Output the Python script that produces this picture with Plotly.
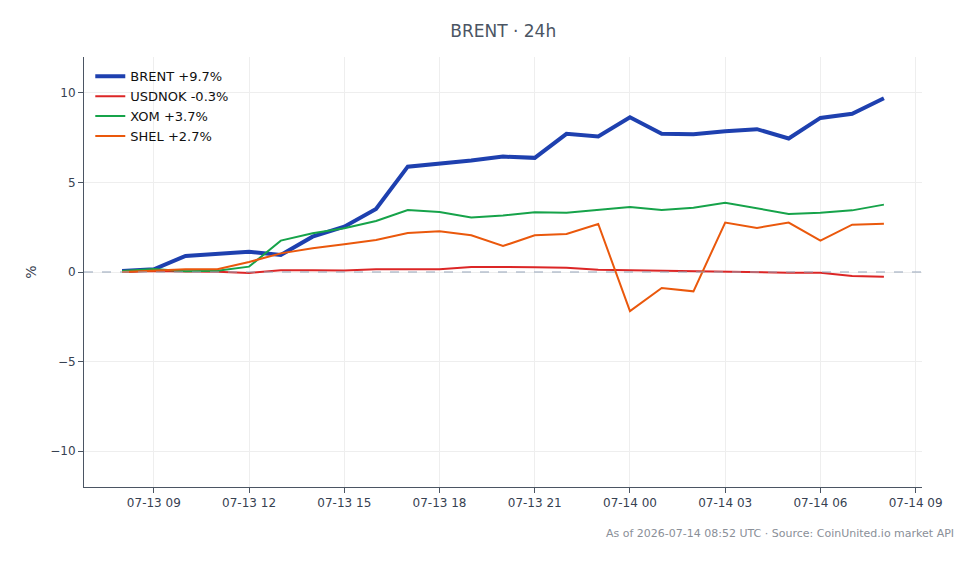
import pandas as pd
import plotly.graph_objects as go

times = pd.date_range("2026-07-13 08:00", "2026-07-14 08:00", freq="h")

brent = [0.05, 0.15, 0.90, 1.00, 1.13, 0.95, 1.97, 2.53, 3.52, 5.88, 6.03, 6.22, 6.44,
         6.37, 7.71, 7.56, 8.64, 7.72, 7.69, 7.86, 7.97, 7.45, 8.60, 8.83, 9.70]
usdnok = [0.00, 0.05, 0.03, 0.02, -0.05, 0.10, 0.10, 0.08, 0.15, 0.13, 0.15, 0.28, 0.29,
          0.27, 0.24, 0.12, 0.10, 0.07, 0.02, -0.01, 0.00, -0.04, -0.04, -0.22, -0.27]
xom = [0.05, 0.17, 0.04, 0.07, 0.30, 1.75, 2.16, 2.44, 2.85, 3.46, 3.35, 3.04, 3.15,
       3.33, 3.31, 3.46, 3.63, 3.46, 3.59, 3.87, 3.54, 3.24, 3.31, 3.44, 3.76]
shel = [0.00, 0.07, 0.15, 0.15, 0.56, 1.04, 1.32, 1.55, 1.79, 2.18, 2.27, 2.05, 1.45,
        2.05, 2.12, 2.68, -2.18, -0.89, -1.08, 2.76, 2.46, 2.76, 1.75, 2.64, 2.70]

series = [
    ("BRENT +9.7%", brent, "#1e40af", 4),
    ("USDNOK -0.3%", usdnok, "#dc2626", 2),
    ("XOM +3.7%", xom, "#16a34a", 2),
    ("SHEL +2.7%", shel, "#ea580c", 2),
]

FONT = "DejaVu Sans"
fig = go.Figure()
for name, vals, color, w in series:
    fig.add_trace(go.Scatter(x=times, y=vals, mode="lines", name=name,
                             line=dict(color=color, width=w)))

fig.add_hline(y=0, line=dict(color="#94a3b8", width=1, dash="dash"))

fig.update_layout(
    width=979, height=564,
    margin=dict(l=84, r=57, t=57, b=77),
    paper_bgcolor="white", plot_bgcolor="white",
    font=dict(family=FONT, size=12, color="#374151"),
    title=dict(text="BRENT · 24h", x=0.514, xanchor="center", y=0.945, yanchor="middle",
               font=dict(family=FONT, size=17, color="#4b5563")),
    showlegend=True,
    legend=dict(x=0.0075, y=0.99, xanchor="left", yanchor="top",
                bgcolor="rgba(255,255,255,0)", font=dict(family=FONT, size=13, color="#111111"),
                tracegroupgap=0, itemwidth=30),
    xaxis=dict(range=["2026-07-13 06:48", "2026-07-14 09:12"],
               dtick=3 * 3600 * 1000, tick0="2026-07-13 00:00", tickformat="%m-%d %H",
               showgrid=True, gridcolor="#eeeeee", gridwidth=1,
               showline=True, linecolor="#4b5563", linewidth=1,
               ticks="outside", ticklen=5, tickcolor="#4b5563", zeroline=False,
               tickfont=dict(color="#374151")),
    yaxis=dict(range=[-12, 12], tickvals=[-10, -5, 0, 5, 10],
               ticktext=["\u221210", "\u22125", "0", "5", "10"],
               showgrid=True, gridcolor="#eeeeee", gridwidth=1,
               showline=True, linecolor="#4b5563", linewidth=1,
               ticks="outside", ticklen=5, tickcolor="#4b5563", zeroline=False,
               title=dict(text="%", standoff=10, font=dict(color="#374151")),
               tickfont=dict(color="#374151")),
    annotations=[dict(text="As of 2026-07-14 08:52 UTC · Source: CoinUnited.io market API",
                      xref="paper", yref="paper", x=1.04, y=-0.089, xanchor="right", yanchor="top",
                      showarrow=False, font=dict(family=FONT, size=11, color="#8a8f98"))],
)

fig.write_html("out.html")
